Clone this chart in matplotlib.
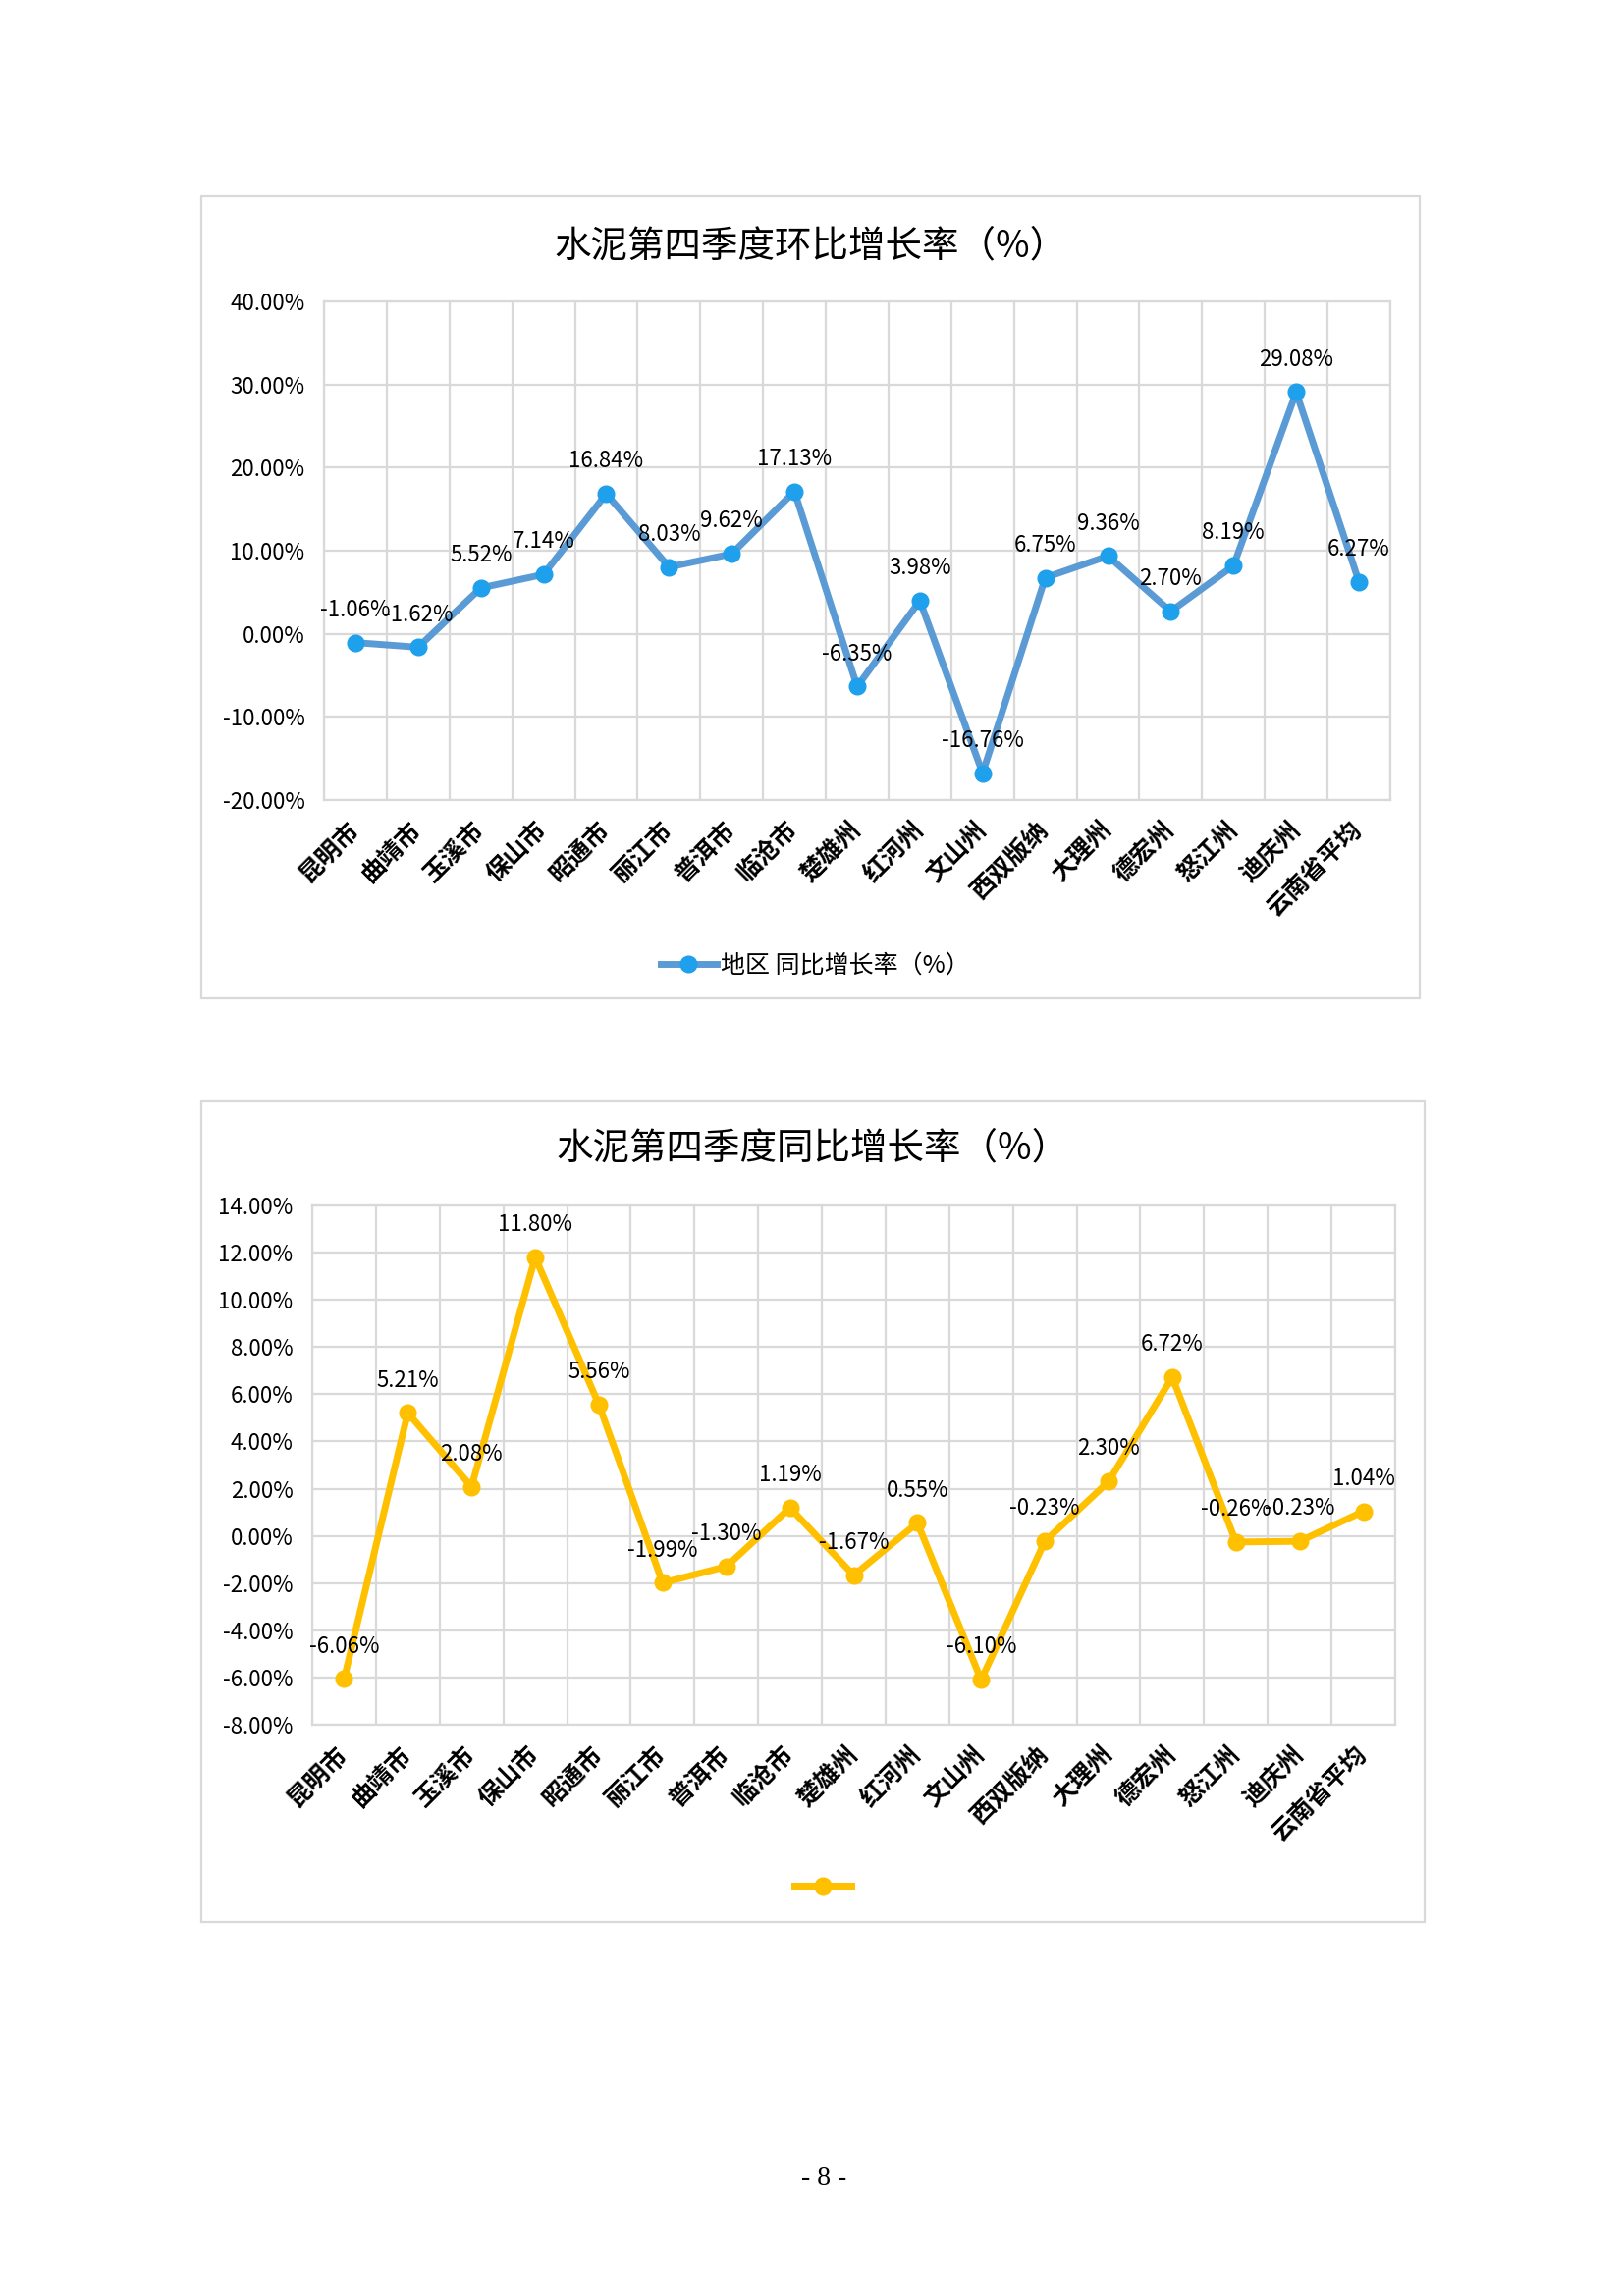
import matplotlib
matplotlib.use("Agg")
import matplotlib.pyplot as plt
import matplotlib.patches as patches
import numpy as np

plt.rcParams['font.family'] = ['Noto Sans CJK SC', 'DejaVu Sans']

categories = ["昆明市", "曲靖市", "玉溪市", "保山市", "昭通市", "丽江市", "普洱市", "临沧市",
              "楚雄州", "红河州", "文山州", "西双版纳", "大理州", "德宏州", "怒江州", "迪庆州", "云南省平均"]
qoq_values = [-1.06, -1.62, 5.52, 7.14, 16.84, 8.03, 9.62, 17.13, -6.35, 3.98,
              -16.76, 6.75, 9.36, 2.70, 8.19, 29.08, 6.27]
yoy_values = [-6.06, 5.21, 2.08, 11.80, 5.56, -1.99, -1.30, 1.19, -1.67, 0.55,
              -6.10, -0.23, 2.30, 6.72, -0.26, -0.23, 1.04]
title1 = "水泥第四季度环比增长率（%）"
title2 = "水泥第四季度同比增长率（%）"
legend1 = "地区 同比增长率（%）"
legend2 = ""
yticks1 = [-20, -10, 0, 10, 20, 30, 40]
yticks2 = [-8, -6, -4, -2, 0, 2, 4, 6, 8, 10, 12, 14]

W, H = 1653, 2339
fig = plt.figure(figsize=(W / 100, H / 100), dpi=100)
fig.patch.set_facecolor('white')

GRID = '#D9D9D9'


def fx(px):
    return px / W


def fy(py):
    return 1 - py / H


def border(x0, y0, x1, y1):
    r = patches.Rectangle((fx(x0), fy(y1)), fx(x1) - fx(x0), fy(y0) - fy(y1),
                          transform=fig.transFigure, fill=False, edgecolor=GRID,
                          linewidth=1.6, zorder=0)
    fig.patches.append(r)


def make_chart(box, plot, values, yticks, title, title_y, line_color, marker_color,
               legend_label, legend_xy):
    border(*box)
    l, t, r, b = plot
    ax = fig.add_axes([fx(l), fy(b), fx(r) - fx(l), fy(t) - fy(b)])
    x = np.arange(len(values))
    line, = ax.plot(x, values, color=line_color, linewidth=5, marker='o',
                    markersize=12, markerfacecolor=marker_color,
                    markeredgecolor=marker_color, zorder=3, clip_on=False)
    ax.set_xlim(-0.5, len(values) - 0.5)
    ax.set_ylim(yticks[0], yticks[-1])
    ax.set_yticks(yticks)
    ax.set_yticklabels([f"{v:.2f}%" for v in yticks], fontsize=16)
    ax.set_xticks(x)
    ax.set_xticklabels(categories, rotation=45, ha='right', va='center',
                       rotation_mode='anchor', fontsize=18, fontweight='heavy')
    ax.set_xticks(np.arange(-0.5, len(values), 1), minor=True)
    ax.tick_params(axis='both', which='both', length=0)
    ax.tick_params(axis='x', which='major', pad=19)
    ax.tick_params(axis='y', pad=14)
    ax.grid(True, axis='y', which='major', color=GRID, linewidth=1.6, zorder=0)
    ax.grid(True, axis='x', which='minor', color=GRID, linewidth=1.6, zorder=0)
    for s in ax.spines.values():
        s.set_color(GRID)
        s.set_linewidth(1.6)
    for xi, v in zip(x, values):
        ax.annotate(f"{v:.2f}%", (xi, v), xytext=(0, 24), textcoords='offset points',
                    ha='center', va='center', fontsize=16, color='black', zorder=4)
    fig.text(fx((box[0] + box[2]) / 2), fy(title_y), title, ha='center', va='center',
             fontsize=27)
    fig.legend([line], [legend_label], loc='center',
               bbox_to_anchor=(fx(legend_xy[0]), fy(legend_xy[1])),
               frameon=False, fontsize=18, handlelength=2.3, handletextpad=0.15,
               borderpad=0)
    return ax


make_chart((205, 200, 1446, 1017), (330, 307, 1416, 815), qoq_values, yticks1,
           title1, 251, '#5B9BD5', '#1FA0EC', legend1, (830, 984))
make_chart((205, 1122, 1451, 1958), (318, 1228, 1421, 1757), yoy_values, yticks2,
           title2, 1170, '#FFC000', '#FFC000', legend2, (840, 1923))

fig.text(fx(839), fy(2219), "- 8 -", ha='center', va='center', fontsize=20,
         family=['Liberation Serif', 'DejaVu Serif'])

fig.savefig("out.png", dpi=100, facecolor='white')
